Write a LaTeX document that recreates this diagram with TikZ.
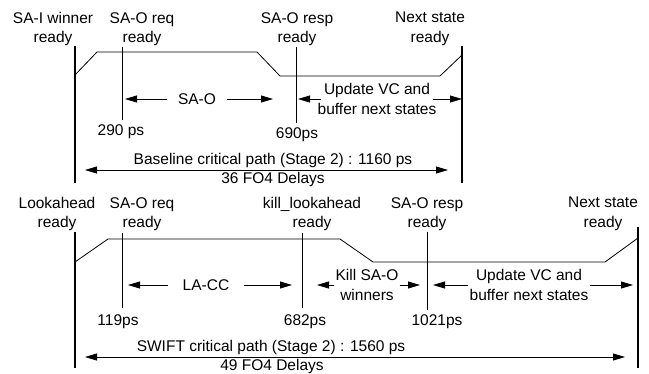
\documentclass[tikz,border=0pt]{standalone}
\usepackage{fontspec}
\setmainfont{Liberation Sans}
\usetikzlibrary{arrows.meta}

\tikzset{
  bar/.style={line width=2.6pt},
  sig/.style={line width=0.8pt},
  tag/.style={align=center, inner sep=0pt},
  arr/.style={line width=0.8pt, -{Triangle[length=12pt,width=7pt]}},
  darr/.style={line width=0.8pt, {Triangle[length=12pt,width=7pt]}-{Triangle[length=12pt,width=7pt]}},
}

\begin{document}
\begin{tikzpicture}[x=1pt,y=-1pt,font=\fontsize{15.5}{19.5}\selectfont]
  \useasboundingbox (0,0) rectangle (649,373);

  % baseline
  \draw[bar] (75,46) -- (75,183);
  \draw[bar] (462,46) -- (462,183);
  \draw[sig] (75,75) -- (97,52) -- (257,52) -- (280,76) -- (440,76) -- (462,55);
  \draw[sig] (122,47) -- (122,120);
  \draw[sig] (296,47) -- (296,123);

  \node[tag] (bWin)  at (53,29)  {SA-I winner\\ready};
  \node[tag] (bReq)  at (142,29) {SA-O req\\ready};
  \node[tag] (bResp) at (297,29) {SA-O resp\\ready};
  \node[tag] (bNext) at (430,29) {Next state\\ready};

  \node[tag, inner xsep=11pt] (bSao) at (197,99) {SA-O};
  \node[tag, inner xsep=-4pt] (bUpd) at (377,99) {Update VC and\\buffer next states};
  \coordinate (bSaoL) at (125,99);
  \coordinate (bSaoR) at (273,99);
  \coordinate (bUpdL) at (298,99);
  \coordinate (bUpdR) at (462,99);
  \draw[arr] (bSao) -- (bSaoL);
  \draw[arr] (bSao) -- (bSaoR);
  \draw[arr] (bUpd) -- (bUpdL);
  \draw[arr] (bUpd) -- (bUpdR);

  \node[tag] (b290) at (121,132) {290 ps};
  \node[tag] (b690) at (297,135) {690ps};

  \coordinate (bPathL) at (85,170);
  \coordinate (bPathR) at (448,170);
  \draw[darr] (bPathL) -- (bPathR);
  \node[tag] (bPath) at (273,160) {Baseline critical path (Stage 2) : 1160 ps};
  \node[tag] (bFo4)  at (273,179) {36 FO4 Delays};

  % SWIFT
  \draw[bar] (75,232) -- (75,368);
  \draw[bar] (638,227) -- (638,368);
  \draw[sig] (75,262) -- (108,239) -- (340,239) -- (373,262) -- (605,262) -- (638,238);
  \draw[sig] (122,233) -- (122,308);
  \draw[sig] (302,233) -- (302,308);
  \draw[sig] (427,232) -- (427,310);

  \node[tag] (sLook) at (57,214)  {Lookahead\\ready};
  \node[tag] (sReq)  at (142,214) {SA-O req\\ready};
  \node[tag] (sKill) at (312,214) {kill\_lookahead\\ready};
  \node[tag] (sResp) at (427,214) {SA-O resp\\ready};
  \node[tag] (sNext) at (603,214) {Next state\\ready};

  \node[tag, inner xsep=15pt] (sLacc) at (206,285) {LA-CC};
  \node[tag, inner xsep=1pt] (sWin) at (367,285) {Kill SA-O\\winners};
  \node[tag, inner xsep=1.5pt] (sUpd) at (529,285) {Update VC and\\buffer next states};
  \coordinate (sLaccL) at (128,285);
  \coordinate (sLaccR) at (292,285);
  \coordinate (sWinL) at (317,285);
  \coordinate (sWinR) at (420,285);
  \coordinate (sUpdL) at (433,285);
  \coordinate (sUpdR) at (633,285);
  \draw[arr] (sLacc) -- (sLaccL);
  \draw[arr] (sLacc) -- (sLaccR);
  \draw[arr] (sWin) -- (sWinL);
  \draw[arr] (sWin) -- (sWinR);
  \draw[arr] (sUpd) -- (sUpdL);
  \draw[arr] (sUpd) -- (sUpdR);

  \node[tag] (s119)  at (118,322) {119ps};
  \node[tag] (s682)  at (305,322) {682ps};
  \node[tag] (s1021) at (437,322) {1021ps};

  \coordinate (sPathL) at (85,357);
  \coordinate (sPathR) at (625,357);
  \draw[darr] (sPathL) -- (sPathR);
  \node[tag] (sPath) at (271,347) {SWIFT critical path (Stage 2) : 1560 ps};
  \node[tag] (sFo4)  at (272,366) {49 FO4 Delays};
\end{tikzpicture}
\end{document}
